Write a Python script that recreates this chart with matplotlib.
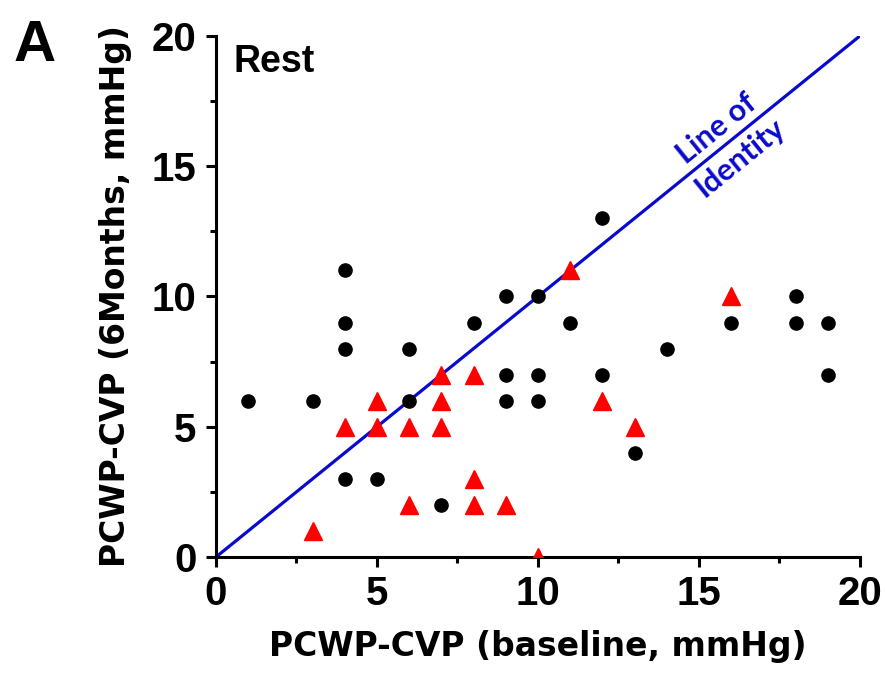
import numpy as np
import matplotlib
matplotlib.use('Agg')
import matplotlib.pyplot as plt
from matplotlib.ticker import MultipleLocator

# Data
black_x = [1, 3, 4, 4, 4, 4, 5, 6, 6, 7, 8, 9, 9, 9, 10, 10, 10, 11, 12, 12, 13, 14, 16, 18, 18, 19, 19]
black_y = [6, 6, 11, 9, 8, 3, 3, 8, 6, 2, 9, 10, 7, 6, 10, 7, 6, 9, 13, 7, 4, 8, 9, 10, 9, 9, 7]
red_x = [3, 4, 5, 5, 6, 6, 7, 7, 7, 8, 8, 8, 9, 10, 11, 12, 13, 16]
red_y = [1, 5, 6, 5, 5, 2, 7, 6, 5, 7, 3, 2, 2, 0, 11, 6, 5, 10]
identity = [0, 20]

plt.rcParams['font.family'] = ['Liberation Sans', 'DejaVu Sans']

fig = plt.figure(figsize=(8.87, 6.75), dpi=100)
ax = fig.add_axes([0.2435, 0.1748, 0.726, 0.772])

# Line of identity
ax.plot(identity, identity, color='#0A0ACC', linewidth=2.3, zorder=2)

ax.plot(black_x, black_y, 'o', color='black', markersize=9.5, zorder=3)
ax.plot(red_x, red_y, '^', color='#FF0000', markersize=12.5, zorder=3)

ax.set_xlim(0, 20)
ax.set_ylim(0, 20)

# Spines
for s in ['top', 'right']:
    ax.spines[s].set_visible(False)
for s in ['left', 'bottom']:
    ax.spines[s].set_linewidth(2.2)

ax.xaxis.set_major_locator(MultipleLocator(5))
ax.yaxis.set_major_locator(MultipleLocator(5))
ax.xaxis.set_minor_locator(MultipleLocator(2.5))
ax.yaxis.set_minor_locator(MultipleLocator(2.5))
ax.tick_params(which='major', length=7, width=2.2, direction='out')
ax.tick_params(which='minor', length=4, width=2.2, direction='out')
ax.tick_params(axis='x', which='major', pad=6)
ax.tick_params(axis='y', which='major', pad=7)

for lab in ax.get_xticklabels() + ax.get_yticklabels():
    lab.set_fontweight('bold')
    lab.set_fontsize(29)

# axis labels: wider face, like the original
ax.set_xlabel('PCWP-CVP (baseline, mmHg)', fontsize=23.8, fontweight='bold', labelpad=12,
              family=['DejaVu Sans'])
ax.set_ylabel('PCWP-CVP (6Months, mmHg)', fontsize=23.8, fontweight='bold', labelpad=14,
              family=['DejaVu Sans'])

# Annotations
ax.text(0.53, 19.0, 'Rest', fontsize=27, fontweight='bold', va='center', ha='left')
ax.text(15.9, 15.9, 'Line of\nIdentity', rotation=39, color='#0A0ACC', fontsize=22,
        fontweight='bold', ha='center', va='center', family=['Lato', 'DejaVu Sans'],
        linespacing=1.4, rotation_mode='anchor')
fig.text(0.015, 0.972, 'A', fontsize=42, fontweight='bold', va='top', ha='left')

fig.savefig('out.png', dpi=100)
